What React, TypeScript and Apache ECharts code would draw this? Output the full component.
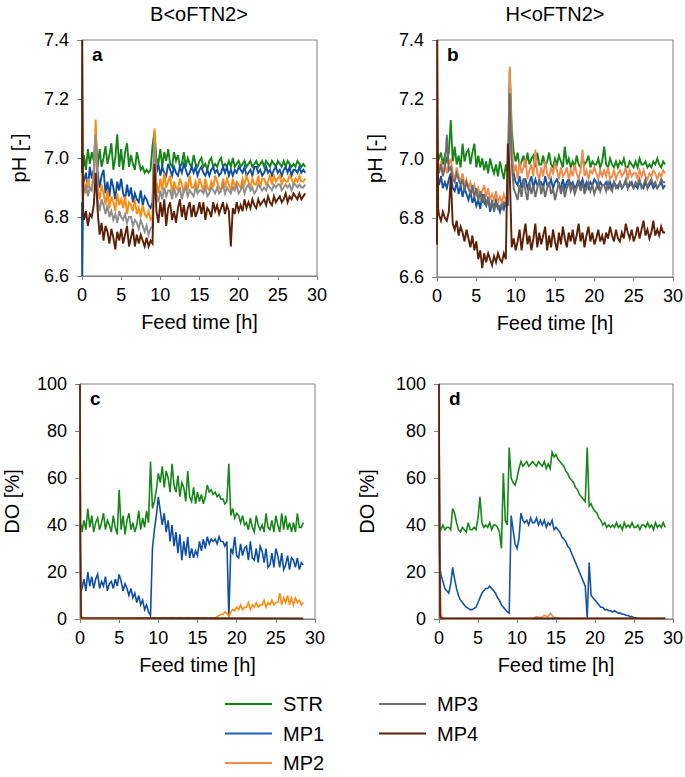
import React, { useEffect, useRef } from "react";
import * as echarts from "echarts";

const FONT = "'Liberation Sans', Arial, Helvetica, sans-serif";

// Sampling times (h): a few early points around the start-up spike, then every 0.25 h
const T_EARLY = [0, 0.03, 0.08, 0.15];
const T_STEP = 0.25;
const END_B = 28.5; // B<oFTN2> runs (panels a, c)
const END_H = 29; // H<oFTN2> runs (panels b, d)

function timeGrid(end: number): number[] {
  const t = [...T_EARLY];
  for (let k = 1; k * T_STEP <= end + 1e-9; k++) t.push(+(k * T_STEP).toFixed(2));
  return t;
}
const T_B = timeGrid(END_B);
const T_H = timeGrid(END_H);

const X_TICKS = [0, 30, 5];
const PH_TICKS = [6.6, 7.4, 0.2];
const DO_TICKS = [0, 100, 20];
const SERIES_NAMES = ["STR", "MP1", "MP2", "MP3", "MP4"];

// ---------- Panel a: pH, B<oFTN2> ----------
const PH_A_STR = [
  6.95, 6.97, 6.99, 6.97,
  7.01, 6.96, 7.03, 6.98, 7.02, 6.99, 7.08, 6.97, 7.03, 6.97, 7.0, 7.04, 6.98, 7.01, 7.05, 6.96,
  7.0, 7.08, 6.97, 7.03, 6.96, 7.02, 7.05, 6.97, 7.01, 6.98, 6.96, 7.02, 6.99, 6.96, 6.97, 6.95,
  6.96, 6.95, 6.96, 7.04, 7.09, 7.0, 6.98, 7.03, 6.97, 7.02, 6.99, 7.03, 6.98, 6.97, 7.02, 6.99,
  7.01, 6.97, 6.98, 7.02, 6.97, 7.0, 6.98, 6.97, 7.01, 6.98, 6.97, 6.99, 7.0, 6.97, 6.98, 6.96,
  6.99, 7.0, 6.97, 6.98, 6.97, 6.99, 7.0, 6.97, 6.98, 6.97, 6.99, 6.97, 7.0, 6.97, 6.98, 6.99,
  6.97, 6.98, 6.99, 6.97, 6.98, 6.99, 6.97, 6.98, 6.99, 6.97, 6.98, 6.99, 6.97, 6.99, 6.98, 6.97,
  6.99, 6.98, 6.97, 6.99, 6.98, 6.97, 6.99, 6.97, 6.99, 6.98, 6.97, 6.98, 6.97, 6.99, 6.98, 6.97,
  6.98, 6.97,
];
const PH_A_MP1 = [
  6.85, 6.6, 6.6, 6.88,
  6.92, 6.95, 6.9, 6.97, 6.93, 6.96, 7.07, 6.95, 6.9, 6.94, 6.96, 6.88, 6.92, 6.87, 6.93, 6.9,
  6.86, 6.92, 6.89, 6.93, 6.88, 6.86, 6.91, 6.87, 6.9, 6.85, 6.88, 6.86, 6.85, 6.89, 6.84, 6.87,
  6.86, 6.84, 6.83, 6.85, 7.07, 6.95, 6.98, 6.94, 6.97, 6.95, 6.94, 6.98, 6.96, 6.94, 6.97, 6.95,
  6.94, 6.97, 6.95, 6.98, 6.96, 6.94, 6.95, 6.97, 6.95, 6.97, 6.94, 6.96, 6.97, 6.95, 6.94, 6.96,
  6.94, 6.96, 6.97, 6.95, 6.96, 6.94, 6.95, 6.97, 6.95, 6.97, 6.94, 6.96, 6.94, 6.96, 6.95, 6.97,
  6.96, 6.95, 6.97, 6.94, 6.95, 6.96, 6.94, 6.97, 6.97, 6.95, 6.96, 6.94, 6.95, 6.97, 6.95, 6.96,
  6.94, 6.96, 6.97, 6.95, 6.96, 6.94, 6.96, 6.97, 6.95, 6.97, 6.94, 6.96, 6.96, 6.95, 6.97, 6.95,
  6.96, 6.95,
];
const PH_A_MP2 = [
  6.9, 6.95, 6.88, 6.9,
  6.92, 6.88, 6.93, 6.89, 6.9, 6.95, 7.13, 6.9, 6.86, 6.91, 6.88, 6.84, 6.89, 6.83, 6.87, 6.85,
  6.82, 6.88, 6.84, 6.86, 6.83, 6.87, 6.81, 6.85, 6.84, 6.82, 6.86, 6.81, 6.83, 6.8, 6.84, 6.81,
  6.8, 6.82, 6.79, 6.8, 7.1, 6.92, 6.88, 6.93, 6.89, 6.95, 6.9, 6.92, 6.94, 6.88, 6.92, 6.9,
  6.89, 6.93, 6.91, 6.88, 6.92, 6.89, 6.94, 6.9, 6.9, 6.92, 6.89, 6.93, 6.91, 6.89, 6.93, 6.9,
  6.89, 6.92, 6.9, 6.94, 6.92, 6.9, 6.89, 6.93, 6.9, 6.93, 6.91, 6.89, 6.93, 6.9, 6.92, 6.91,
  6.9, 6.93, 6.91, 6.94, 6.92, 6.9, 6.93, 6.91, 6.91, 6.94, 6.9, 6.93, 6.93, 6.91, 6.92, 6.94,
  6.91, 6.94, 6.92, 6.93, 6.94, 6.91, 6.93, 6.92, 6.92, 6.94, 6.93, 6.91, 6.93, 6.92, 6.94, 6.92,
  6.92, 6.93,
];
const PH_A_MP3 = [
  6.9, 6.93, 6.88, 6.9,
  6.88, 6.91, 6.87, 6.9, 6.89, 6.93, 7.08, 6.86, 6.82, 6.86, 6.84, 6.81, 6.84, 6.8, 6.82, 6.79,
  6.81, 6.78, 6.82, 6.8, 6.79, 6.81, 6.78, 6.8, 6.8, 6.77, 6.79, 6.78, 6.76, 6.79, 6.77, 6.75,
  6.77, 6.74, 6.76, 6.77, 7.05, 6.88, 6.85, 6.89, 6.86, 6.9, 6.87, 6.89, 6.89, 6.86, 6.9, 6.87,
  6.88, 6.9, 6.86, 6.89, 6.9, 6.87, 6.89, 6.88, 6.87, 6.9, 6.88, 6.89, 6.89, 6.88, 6.9, 6.87,
  6.88, 6.9, 6.89, 6.88, 6.9, 6.88, 6.89, 6.91, 6.88, 6.9, 6.89, 6.88, 6.9, 6.89, 6.91, 6.88,
  6.89, 6.91, 6.88, 6.9, 6.91, 6.89, 6.9, 6.88, 6.89, 6.91, 6.9, 6.89, 6.9, 6.89, 6.91, 6.9,
  6.89, 6.91, 6.9, 6.91, 6.91, 6.89, 6.9, 6.91, 6.9, 6.91, 6.89, 6.91, 6.91, 6.9, 6.91, 6.9,
  6.9, 6.91,
];
const PH_A_MP4 = [
  6.95, 7.4, 7.17, 6.82,
  6.79, 6.82, 6.77, 6.81, 6.8, 6.84, 6.95, 6.82, 6.74, 6.78, 6.72, 6.77, 6.75, 6.71, 6.76, 6.73,
  6.69, 6.75, 6.72, 6.76, 6.71, 6.74, 6.77, 6.7, 6.73, 6.76, 6.7, 6.74, 6.71, 6.74, 6.72, 6.7,
  6.73, 6.7, 6.72, 6.71, 6.98, 6.82, 6.78, 6.85, 6.8, 6.86, 6.77, 6.83, 6.85, 6.79, 6.82, 6.78,
  6.83, 6.86, 6.8, 6.84, 6.79, 6.83, 6.85, 6.8, 6.84, 6.8, 6.82, 6.85, 6.81, 6.85, 6.79, 6.83,
  6.82, 6.8, 6.85, 6.82, 6.84, 6.81, 6.83, 6.85, 6.81, 6.84, 6.82, 6.7, 6.83, 6.81, 6.85, 6.82,
  6.84, 6.82, 6.86, 6.83, 6.85, 6.83, 6.86, 6.84, 6.83, 6.86, 6.84, 6.85, 6.86, 6.84, 6.87, 6.85,
  6.84, 6.87, 6.85, 6.86, 6.87, 6.85, 6.86, 6.88, 6.85, 6.87, 6.86, 6.88, 6.87, 6.86, 6.88, 6.86,
  6.87, 6.88,
];

// ---------- Panel b: pH, H<oFTN2> ----------
const PH_B_STR = [
  7.0, 7.02, 6.98, 7.01,
  7.0, 7.02, 6.98, 7.01, 6.99, 7.02, 7.13, 6.99, 7.04, 6.98, 7.01, 6.97, 7.05, 6.99, 7.02, 7.03,
  6.98, 7.02, 7.05, 6.97, 7.01, 6.97, 7.0, 6.96, 6.99, 6.95, 7.0, 6.97, 6.95, 6.98, 6.94, 6.99,
  6.96, 6.93, 6.98, 6.95, 7.3, 7.1, 7.02, 6.99, 7.02, 6.97, 6.99, 7.01, 6.97, 7.02, 6.98, 7.0,
  7.01, 6.97, 7.02, 6.98, 6.98, 7.01, 6.97, 6.99, 7.02, 6.98, 6.97, 7.0, 6.98, 7.01, 6.99, 6.97,
  7.04, 6.98, 7.0, 6.97, 6.99, 6.97, 7.01, 6.98, 6.97, 7.0, 6.98, 6.99, 7.01, 6.97, 6.99, 6.98,
  6.98, 7.0, 6.97, 6.99, 7.04, 6.98, 6.97, 7.0, 6.98, 6.97, 6.99, 6.97, 6.99, 6.98, 7.0, 6.97,
  6.97, 6.99, 6.98, 6.97, 6.99, 6.97, 7.0, 6.98, 6.98, 6.99, 6.97, 6.98, 6.97, 6.99, 6.98, 7.0,
  6.98, 6.97, 6.99, 6.98,
];
const PH_B_MP1 = [
  6.93, 6.95, 6.91, 6.93,
  6.91, 6.94, 6.9, 6.92, 6.9, 6.93, 6.95, 6.9, 6.89, 6.92, 6.88, 6.91, 6.87, 6.9, 6.88, 6.86,
  6.89, 6.85, 6.87, 6.84, 6.86, 6.83, 6.88, 6.85, 6.84, 6.87, 6.82, 6.85, 6.83, 6.86, 6.84, 6.82,
  6.85, 6.83, 6.86, 6.84, 7.25, 7.0, 6.95, 6.92, 6.91, 6.94, 6.9, 6.93, 6.93, 6.9, 6.92, 6.94,
  6.9, 6.93, 6.91, 6.92, 6.92, 6.9, 6.94, 6.91, 6.91, 6.93, 6.9, 6.92, 6.93, 6.91, 6.9, 6.93,
  6.9, 6.92, 6.93, 6.91, 6.92, 6.9, 6.91, 6.93, 6.91, 6.93, 6.9, 6.92, 6.9, 6.92, 6.91, 6.93,
  6.92, 6.9, 6.92, 6.91, 6.91, 6.92, 6.9, 6.92, 6.9, 6.92, 6.91, 6.9, 6.92, 6.9, 6.91, 6.92,
  6.9, 6.91, 6.92, 6.9, 6.91, 6.9, 6.92, 6.91, 6.9, 6.92, 6.9, 6.91, 6.92, 6.9, 6.91, 6.9,
  6.91, 6.92, 6.9, 6.91,
];
const PH_B_MP2 = [
  6.97, 7.0, 6.95, 6.98,
  6.96, 6.99, 6.95, 6.98, 6.95, 6.98, 7.0, 6.95, 6.93, 6.97, 6.94, 6.92, 6.95, 6.91, 6.93, 6.9,
  6.92, 6.89, 6.91, 6.88, 6.9, 6.87, 6.89, 6.91, 6.87, 6.9, 6.86, 6.88, 6.86, 6.89, 6.85, 6.87,
  6.85, 6.88, 6.86, 6.87, 7.31, 7.05, 6.95, 6.98, 6.93, 6.99, 6.95, 6.97, 7.0, 6.93, 6.96, 6.98,
  6.94, 7.03, 6.95, 6.93, 6.97, 6.94, 6.99, 6.95, 6.93, 6.97, 6.95, 6.98, 6.96, 6.93, 6.97, 6.94,
  6.95, 6.97, 6.93, 6.96, 6.94, 6.98, 6.95, 6.93, 6.96, 7.03, 6.94, 6.96, 6.93, 6.96, 6.95, 6.97,
  6.95, 6.93, 6.96, 6.94, 6.96, 6.94, 6.97, 6.93, 6.94, 6.96, 6.93, 6.95, 6.96, 6.94, 6.95, 6.97,
  6.93, 6.96, 6.94, 6.95, 6.95, 6.93, 6.96, 6.94, 6.96, 6.94, 6.93, 6.95, 6.94, 6.96, 6.95, 6.93,
  6.95, 6.94, 6.96, 6.95,
];
const PH_B_MP3 = [
  6.98, 6.95, 6.97, 6.96,
  6.95, 6.98, 6.94, 6.97, 7.08, 6.96, 6.97, 6.93, 6.92, 6.95, 6.93, 6.91, 6.93, 6.89, 6.92, 6.9,
  6.88, 6.91, 6.87, 6.9, 6.86, 6.89, 6.85, 6.88, 6.84, 6.87, 6.83, 6.86, 6.82, 6.85, 6.83, 6.84,
  6.83, 6.85, 6.84, 6.86, 7.22, 6.98, 6.9, 6.88, 6.86, 6.91, 6.87, 6.93, 6.89, 6.86, 6.92, 6.88,
  6.91, 6.87, 6.9, 6.93, 6.88, 6.91, 6.87, 6.9, 6.92, 6.88, 6.9, 6.86, 6.89, 6.92, 6.88, 6.91,
  6.87, 6.9, 6.92, 6.89, 6.91, 6.88, 6.9, 6.92, 6.89, 6.92, 6.88, 6.9, 6.92, 6.89, 6.91, 6.88,
  6.9, 6.92, 6.89, 6.91, 6.91, 6.89, 6.92, 6.9, 6.89, 6.92, 6.9, 6.91, 6.92, 6.9, 6.91, 6.93,
  6.9, 6.92, 6.91, 6.9, 6.92, 6.91, 6.93, 6.9, 6.91, 6.93, 6.9, 6.92, 6.93, 6.91, 6.92, 6.9,
  6.91, 6.93, 6.92, 6.92,
];
const PH_B_MP4 = [
  6.71, 7.4, 7.17, 6.83,
  6.81, 6.79, 6.82, 6.8, 6.79, 6.82, 6.94, 6.78, 6.76, 6.79, 6.74, 6.77, 6.75, 6.72, 6.76, 6.73,
  6.7, 6.74, 6.69, 6.72, 6.66, 6.69, 6.63, 6.68, 6.65, 6.68, 6.66, 6.64, 6.67, 6.65, 6.68, 6.66,
  6.65, 6.68, 6.66, 7.05, 6.95, 6.7, 6.73, 6.69, 6.72, 6.76, 6.69, 6.74, 6.78, 6.71, 6.74, 6.69,
  6.73, 6.78, 6.7, 6.75, 6.71, 6.74, 6.77, 6.69, 6.74, 6.7, 6.76, 6.72, 6.69, 6.75, 6.71, 6.77,
  6.73, 6.7, 6.75, 6.72, 6.76, 6.71, 6.74, 6.78, 6.72, 6.75, 6.7, 6.74, 6.77, 6.72, 6.75, 6.71,
  6.73, 6.76, 6.72, 6.74, 6.71, 6.75, 6.73, 6.77, 6.74, 6.72, 6.76, 6.73, 6.72, 6.75, 6.73, 6.78,
  6.75, 6.73, 6.76, 6.72, 6.74, 6.77, 6.73, 6.76, 6.79, 6.74, 6.76, 6.73, 6.75, 6.79, 6.74, 6.76,
  6.74, 6.77, 6.75, 6.75,
];

// ---------- Panel c: DO, B<oFTN2> ----------
const DO_C_STR = [
  100, 70, 38, 40,
  37, 42, 38, 47, 39, 44, 37, 41, 43, 38, 41, 45, 38, 42, 40, 37,
  44, 39, 36, 55, 38, 44, 36, 42, 45, 38, 41, 37, 40, 46, 38, 43,
  39, 46, 41, 67, 47, 50, 55, 62, 58, 65, 56, 63, 60, 54, 66, 57,
  54, 61, 52, 58, 56, 50, 63, 52, 50, 56, 49, 54, 50, 53, 49, 52,
  57, 54, 55, 53, 54, 52, 53, 51, 51, 49, 50, 66, 44, 47, 43, 45,
  44, 41, 44, 40, 41, 38, 43, 39, 37, 44, 40, 38, 40, 37, 45, 39,
  38, 42, 37, 44, 40, 37, 45, 38, 44, 38, 41, 37, 41, 37, 45, 39,
  39, 41,
];
const DO_C_MP1 = [
  100, 40, 14, 12,
  13, 17, 12, 20, 14, 18, 13, 17, 19, 13, 16, 14, 18, 12, 15, 16,
  13, 17, 14, 19, 16, 12, 15, 13, 10, 13, 9, 11, 7, 10, 6, 8,
  4, 6, 3, 1.5, 30, 38, 44, 52, 46, 40, 45, 37, 42, 33, 40, 31,
  37, 28, 36, 25, 33, 27, 35, 26, 30, 26, 29, 27, 33, 29, 34, 30,
  35, 32, 34, 33, 34, 32, 35, 33, 33, 31, 33, 1, 30, 28, 35, 27,
  26, 32, 27, 30, 31, 25, 33, 26, 25, 30, 24, 31, 29, 24, 30, 22,
  23, 28, 22, 30, 27, 22, 28, 21, 23, 27, 21, 26, 25, 22, 26, 21,
  24, 23,
];
const DO_C_MP2 = [
  100, 50, 2, 0,
  0.3, 0, 0.3, 0, 0.3, 0, 0.3, 0, 0.3, 0, 0.3, 0, 0.3, 0, 0.3, 0,
  0.3, 0, 0.3, 0, 0.3, 0, 0.3, 0, 0.3, 0, 0.3, 0, 0.3, 0, 0.3, 0,
  0.3, 0, 0.3, 0, 0.5, 0.3, 0.6, 0.4, 0.5, 0.3, 0.6, 0.4, 0.5, 0.3, 0.6, 0.4,
  0.5, 0.3, 0.6, 0.4, 0.5, 0.3, 0.6, 0.4, 0.5, 0.3, 0.6, 0.4, 0.5, 0.3, 0.6, 0.4,
  0.5, 0.3, 0.6, 0.4, 0.5, 1, 1.5, 2, 2, 3, 2.5, 1, 3, 4, 3.5, 5,
  4, 6, 4, 5, 5, 7, 4, 6, 5, 7, 5, 6, 6, 8, 5, 7,
  6, 8, 6, 7, 7, 11, 6, 9, 7, 10, 6, 9, 6, 9, 7, 8,
  6, 7,
];
const DO_C_MP3: [number, number][] = [[0, 100], [0.05, 40], [0.15, 1], [0.5, 0.3], [28.5, 0.3]];
const DO_C_MP4: [number, number][] = [[0, 100], [0.05, 30], [0.15, 0.5], [28.5, 0.2]];

// ---------- Panel d: DO, H<oFTN2> ----------
const DO_D_STR = [
  100, 65, 42, 39,
  38, 40, 38, 39, 39, 38, 47, 45, 41, 38, 37, 39, 38, 37, 41, 38,
  38, 39, 38, 43, 52, 41, 39, 40, 39, 41, 38, 40, 40, 39, 37, 30,
  62, 42, 40, 73, 60, 58, 57, 60, 64, 67, 65, 66, 67, 65, 66, 67,
  66, 65, 67, 66, 65, 67, 64, 66, 64, 71, 69, 70, 68, 67, 66, 65,
  63, 62, 60, 59, 58, 56, 55, 53, 52, 51, 50, 73, 48, 49, 47, 46,
  45, 43, 42, 40, 41, 39, 40, 39, 40, 39, 41, 39, 40, 38, 41, 39,
  40, 39, 41, 39, 39, 40, 38, 40, 40, 39, 41, 39, 40, 38, 41, 39,
  40, 39, 41, 39,
];
const DO_D_MP1 = [
  100, 45, 24, 21,
  19, 16, 13, 12, 11, 15, 22, 17, 13, 10, 8, 7, 6, 5, 4.5, 4,
  4, 4.5, 5, 7, 9, 11, 12, 13, 13, 14, 13, 12, 11, 9, 8, 6,
  5, 4, 3, 2.5, 44, 38, 32, 30, 34, 45, 42, 41, 42, 40, 43, 41,
  41, 43, 40, 42, 40, 42, 39, 41, 40, 42, 38, 39, 38, 37, 35, 34,
  33, 31, 30, 28, 26, 24, 22, 20, 18, 16, 14, 0.5, 24, 10, 9, 8,
  7, 6, 5, 5, 4, 4, 3.5, 3.5, 3, 3.5, 3, 2.5, 2.5, 2, 2, 1.5,
  1.5, 1, 1, 0.5, 0.5, 0.3, 0.2, 0.1, 0, 0, 0, 0, 0, 0, 0, 0,
  0, 0, 0, 0,
];
const DO_D_MP2: [number, number][] = [
  [0, 100], [0.03, 80], [0.08, 30], [0.15, 20], [0.25, 2], [0.5, 0], [12, 0], [12.5, 1], [13, 0.5],
  [13.5, 1.5], [14, 1], [14.3, 2.5], [14.6, 1], [15, 0.5], [16, 0], [29, 0],
];
const DO_D_MP3: [number, number][] = [[0, 100], [0.05, 60], [0.15, 1], [0.3, 0.2], [29, 0.2]];
const DO_D_MP4: [number, number][] = [[0, 100], [0.05, 50], [0.15, 1], [0.3, 0.3], [29, 0.3]];

const COLORS_1: Record<string, string> = {
  STR: "#17861a", MP1: "#0e4ea3", MP2: "#ff8c12", MP3: "#8e8e8e", MP4: "#5c2006",
};
const COLORS_2: Record<string, string> = {
  STR: "#17861a", MP1: "#1553a8", MP2: "#f38a4a", MP3: "#6b6b6b", MP4: "#5c2006",
};
const LEGEND_COLORS: Record<string, string> = {
  STR: "#17861a", MP1: "#1f5fbf", MP2: "#f5894b", MP3: "#707070", MP4: "#5c2006",
};

const pair = (t: number[], v: number[]) => v.map((y, i) => [t[i], y]);

type Panel = {
  letter: string;
  grid: { left: number; top: number; width: number; height: number };
  kind: "pH" | "DO";
  yNameGap: number;
  lineWidth: number;
  colors: Record<string, string>;
  data: Record<string, number[][]>;
};

const PANELS: Panel[] = [
  {
    letter: "a", grid: { left: 82, top: 40, width: 235, height: 236 }, kind: "pH", yNameGap: 53, lineWidth: 1.9,
    colors: COLORS_1,
    data: {
      STR: pair(T_B, PH_A_STR), MP1: pair(T_B, PH_A_MP1), MP2: pair(T_B, PH_A_MP2),
      MP3: pair(T_B, PH_A_MP3), MP4: pair(T_B, PH_A_MP4),
    },
  },
  {
    letter: "b", grid: { left: 437, top: 40, width: 236, height: 237 }, kind: "pH", yNameGap: 52, lineWidth: 1.9,
    colors: COLORS_2,
    data: {
      STR: pair(T_H, PH_B_STR), MP1: pair(T_H, PH_B_MP1), MP2: pair(T_H, PH_B_MP2),
      MP3: pair(T_H, PH_B_MP3), MP4: pair(T_H, PH_B_MP4),
    },
  },
  {
    letter: "c", grid: { left: 80, top: 384, width: 235, height: 235 }, kind: "DO", yNameGap: 58, lineWidth: 1.6,
    colors: COLORS_1,
    data: {
      STR: pair(T_B, DO_C_STR), MP1: pair(T_B, DO_C_MP1), MP2: pair(T_B, DO_C_MP2),
      MP3: DO_C_MP3, MP4: DO_C_MP4,
    },
  },
  {
    letter: "d", grid: { left: 439, top: 384, width: 234, height: 235 }, kind: "DO", yNameGap: 62, lineWidth: 1.6,
    colors: COLORS_2,
    data: {
      STR: pair(T_H, DO_D_STR), MP1: pair(T_H, DO_D_MP1), MP2: DO_D_MP2,
      MP3: DO_D_MP3, MP4: DO_D_MP4,
    },
  },
];

const AXIS_GRAY = "#7f7f7f";

function buildOption() {
  const grids: any[] = [];
  const xAxes: any[] = [];
  const yAxes: any[] = [];
  const series: any[] = [];
  const graphics: any[] = [];

  PANELS.forEach((p, i) => {
    grids.push({
      ...p.grid, show: true, borderColor: AXIS_GRAY, borderWidth: 1, backgroundColor: "#fff",
      containLabel: false, outerBoundsMode: "none",
    });
    xAxes.push({
      type: "value", gridIndex: i, min: X_TICKS[0], max: X_TICKS[1], interval: X_TICKS[2],
      name: "Feed time [h]", nameLocation: "middle", nameGap: 36,
      nameTextStyle: { fontSize: 20, color: "#000", fontFamily: FONT },
      axisLine: { show: true, onZero: false, lineStyle: { color: AXIS_GRAY, width: 1 } },
      axisTick: { show: true, inside: false, length: 4, lineStyle: { color: AXIS_GRAY } },
      axisLabel: { fontSize: 18, color: "#000", fontFamily: FONT, margin: 10 },
      splitLine: { show: false },
    });
    const t = p.kind === "pH" ? PH_TICKS : DO_TICKS;
    yAxes.push({
      type: "value", gridIndex: i, min: t[0], max: t[1], interval: t[2],
      name: p.kind === "pH" ? "pH [-]" : "DO [%]", nameLocation: "middle", nameGap: p.yNameGap,
      nameTextStyle: { fontSize: 20, color: "#000", fontFamily: FONT },
      axisLine: { show: true, onZero: false, lineStyle: { color: AXIS_GRAY, width: 1 } },
      axisTick: { show: true, inside: false, length: 5, lineStyle: { color: AXIS_GRAY } },
      axisLabel: {
        fontSize: 18, color: "#000", fontFamily: FONT, margin: 13,
        formatter: p.kind === "pH" ? (v: number) => v.toFixed(1) : (v: number) => String(Math.round(v)),
      },
      splitLine: { show: false },
    });
    SERIES_NAMES.forEach((name) => {
      series.push({
        type: "line", name, xAxisIndex: i, yAxisIndex: i, data: p.data[name],
        showSymbol: false, symbol: "none", clip: true, silent: true,
        lineStyle: { width: p.lineWidth, color: p.colors[name], join: "miter" },
        itemStyle: { color: p.colors[name] },
        emphasis: { disabled: true },
      });
    });
    graphics.push({
      type: "text", left: p.grid.left + 10, top: p.grid.top + 5, z: 100,
      style: { text: p.letter, font: `bold 19px ${FONT}`, fill: "#000" },
    });
  });

  graphics.push(
    {
      type: "text", x: 199, y: 14,
      style: { text: "B<oFTN2>", font: `20px ${FONT}`, fill: "#000", textAlign: "center", textVerticalAlign: "middle" },
    },
    {
      type: "text", x: 555, y: 14,
      style: { text: "H<oFTN2>", font: `20px ${FONT}`, fill: "#000", textAlign: "center", textVerticalAlign: "middle" },
    }
  );

  const legendBase = {
    orient: "vertical", itemWidth: 47, itemHeight: 2, itemGap: 9.5, icon: "rect", padding: 0,
    selectedMode: false, top: 694,
    textStyle: { fontSize: 20, lineHeight: 20, color: "#000", fontFamily: FONT, padding: [0, 0, 0, 6] },
  };
  const legendItem = (name: string) => ({ name, itemStyle: { color: LEGEND_COLORS[name] } });

  return {
    animation: false,
    backgroundColor: "#fff",
    textStyle: { fontFamily: FONT },
    grid: grids,
    xAxis: xAxes,
    yAxis: yAxes,
    series,
    graphic: graphics,
    legend: [
      { ...legendBase, left: 225, data: ["STR", "MP1", "MP2"].map(legendItem) },
      { ...legendBase, left: 379, data: ["MP3", "MP4"].map(legendItem) },
    ],
  };
}

export default function App() {
  const ref = useRef<HTMLDivElement>(null);
  useEffect(() => {
    if (!ref.current) return;
    const chart = echarts.init(ref.current, null, { renderer: "svg" });
    chart.setOption(buildOption() as any);
    return () => chart.dispose();
  }, []);
  return (
    <div
      ref={ref}
      style={{ position: "absolute", left: 0, top: 0, width: 685, height: 777, background: "#fff" }}
    />
  );
}
